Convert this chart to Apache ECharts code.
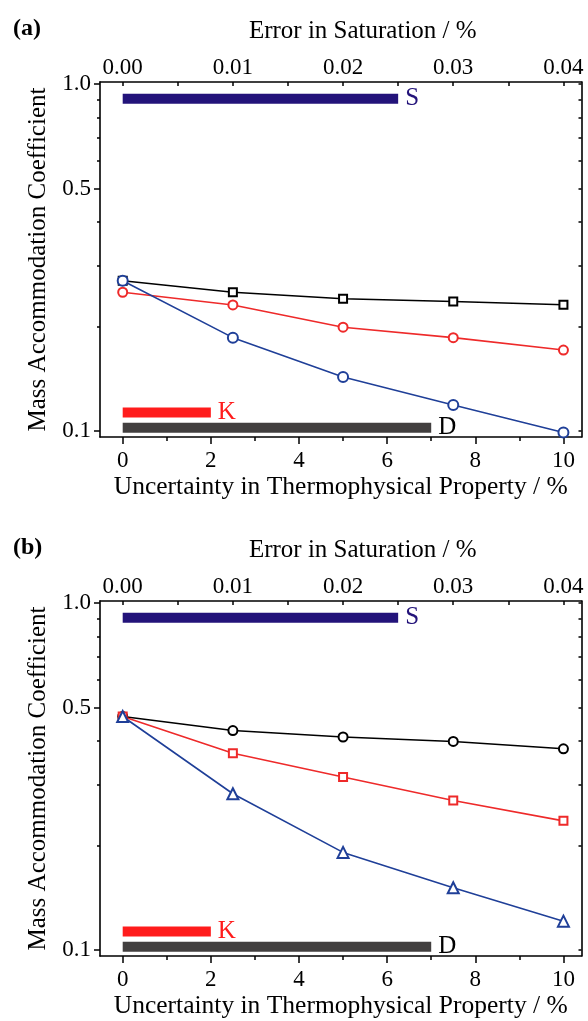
<!DOCTYPE html>
<html>
<head>
<meta charset="utf-8">
<script src="https://cdn.jsdelivr.net/npm/echarts@6/dist/echarts.min.js"></script>
<style>
html,body{margin:0;padding:0;background:#fff;}
#chart{width:588px;height:1021px;}
</style>
</head>
<body>
<div id="chart"></div>
<script>
// ---------- data ----------
const xVals = [0, 2.5, 5, 7.5, 10];

// panel (a)
const aBlack = [0.271, 0.251, 0.2405, 0.236, 0.231];
const aRed   = [0.251, 0.2307, 0.199, 0.1857, 0.171];
const aBlue  = [0.271, 0.1857, 0.143, 0.1188, 0.0989];

// panel (b)
const bBlack = [0.471, 0.429, 0.411, 0.399, 0.380];
const bRed   = [0.471, 0.369, 0.315, 0.2695, 0.2355];
const bBlue  = [0.471, 0.282, 0.191, 0.151, 0.121];

// range bars: [start, end, level]
const barS = [0, 0.025, 0.908];   // on the saturation-error axis
const barK = [0, 2, 0.113];
const barD = [0, 7, 0.102];

// tick labels
const bottomTicks = [0, 2, 4, 6, 8, 10];
const bottomMinor = [1, 3, 5, 7, 9];
const topTicks = [0, 0.01, 0.02, 0.03, 0.04];
const topAllTicks = [0, 0.005, 0.01, 0.015, 0.02, 0.025, 0.03, 0.035, 0.04];
const yTicks = [0.1, 0.5, 1.0];
const yMinor = [0.2, 0.3, 0.4, 0.6, 0.7, 0.8, 0.9];
const yAll = [0.1, 0.2, 0.3, 0.4, 0.5, 0.6, 0.7, 0.8, 0.9, 1.0];

// axis limits
const xMin = -0.515, xMax = 10.41;
const satPerUnit = 0.004;
const yMin = 0.096, yMax = 1.014;

// ---------- style ----------
const FONT = '"Liberation Serif", "Times New Roman", serif';
const BLACK = '#000000', RED = '#ee2a2a', BLUE = '#1f3f98';
const S_COL = '#23137a', K_COL = '#ff1c1c', D_COL = '#423f3f';

const lineAx = {show: true, onZero: false, lineStyle: {color: '#000', width: 1.6}};
const noSplit = {show: false};

function xAxesFor(gi) {
  return [
    { type: 'value', gridIndex: gi, position: 'bottom', min: xMin, max: xMax,
      axisLine: lineAx, splitLine: noSplit,
      axisTick: {show: true, customValues: bottomTicks, length: 7, lineStyle: {color: '#000', width: 1.5}},
      axisLabel: {customValues: bottomTicks, margin: 12, fontSize: 23, fontFamily: FONT, color: '#000'},
      name: 'Uncertainty in Thermophysical Property / %', nameLocation: 'middle', nameGap: 37,
      nameTextStyle: {fontSize: 25.5, fontFamily: FONT, color: '#000'} },
    { type: 'value', gridIndex: gi, position: 'bottom', min: xMin, max: xMax,
      axisLine: {show: false, onZero: false}, splitLine: noSplit,
      axisTick: {show: true, customValues: bottomMinor, length: 4, lineStyle: {color: '#000', width: 1.5}},
      axisLabel: {show: false} },
    { type: 'value', gridIndex: gi, position: 'top', min: xMin * satPerUnit, max: xMax * satPerUnit,
      axisLine: lineAx, splitLine: noSplit,
      axisTick: {show: true, inside: true, customValues: topAllTicks, length: 4, lineStyle: {color: '#000', width: 1.5}},
      axisLabel: {customValues: topTicks, margin: 3, fontSize: 23, fontFamily: FONT, color: '#000',
                  formatter: v => Number(v).toFixed(2)},
      name: 'Error in Saturation / %', nameLocation: 'middle', nameGap: 38,
      nameTextStyle: {fontSize: 25, fontFamily: FONT, color: '#000', padding: [0, 0, 0, 44]} }
  ];
}

function yAxesFor(gi) {
  return [
    { type: 'log', logBase: 10, gridIndex: gi, position: 'left', min: yMin, max: yMax,
      axisLine: lineAx, splitLine: noSplit, minorTick: {show: false},
      axisTick: {show: true, customValues: yTicks, length: 6, lineStyle: {color: '#000', width: 1.5}},
      axisLabel: {customValues: yTicks, margin: 9, fontSize: 23, fontFamily: FONT, color: '#000',
                  formatter: v => Number(v).toFixed(1)},
      name: 'Mass Accommodation Coefficient', nameLocation: 'middle', nameGap: 47, nameRotate: 90,
      nameTextStyle: {fontSize: 25, fontFamily: FONT, color: '#000'} },
    { type: 'log', logBase: 10, gridIndex: gi, position: 'left', min: yMin, max: yMax,
      axisLine: {show: false, onZero: false}, splitLine: noSplit,
      axisTick: {show: true, customValues: yMinor, length: 3, lineStyle: {color: '#000', width: 1.5}},
      axisLabel: {show: false} },
    { type: 'log', logBase: 10, gridIndex: gi, position: 'right', min: yMin, max: yMax,
      axisLine: lineAx, splitLine: noSplit,
      axisTick: {show: true, inside: true, customValues: yAll, length: 3, lineStyle: {color: '#000', width: 1.5}},
      axisLabel: {show: false} }
  ];
}

function pts(ys) { return xVals.map((x, i) => [x, ys[i]]); }

function dataSeries(gi, ys, color, symbol, size) {
  return { type: 'line', xAxisIndex: gi * 3, yAxisIndex: gi * 3, data: pts(ys),
    symbol: symbol, symbolSize: size, showSymbol: true,
    color: color,
    lineStyle: {color: color, width: 1.6},
    itemStyle: {color: color, borderColor: color, borderWidth: 1.7},
    z: 5 };
}

function barSeries(gi, bar, color, text, labelColor, onTop) {
  return { type: 'line', xAxisIndex: gi * 3 + (onTop ? 2 : 0), yAxisIndex: gi * 3,
    data: [[bar[0], bar[2]], [bar[1], bar[2]]], symbol: 'none',
    lineStyle: {color: color, width: 10, cap: 'butt'},
    endLabel: {show: true, formatter: text, distance: 7, fontSize: 25, fontFamily: FONT, color: labelColor},
    z: 3 };
}

const series = [];
[[aBlack, aRed, aBlue], [bBlack, bRed, bBlue]].forEach((set, gi) => {
  series.push(barSeries(gi, barS, S_COL, 'S', S_COL, true));
  series.push(barSeries(gi, barK, K_COL, 'K', K_COL, false));
  series.push(barSeries(gi, barD, D_COL, 'D', '#000', false));
  if (gi === 0) {
    series.push(dataSeries(gi, set[0], BLACK, 'emptyRect', 8));
    series.push(dataSeries(gi, set[1], RED, 'emptyCircle', 9));
    series.push(dataSeries(gi, set[2], BLUE, 'emptyCircle', 10));
  } else {
    series.push(dataSeries(gi, set[0], BLACK, 'emptyCircle', 9));
    series.push(dataSeries(gi, set[1], RED, 'emptyRect', 8));
    series.push(dataSeries(gi, set[2], BLUE, 'emptyTriangle', 11));
  }
});

const option = {
  backgroundColor: '#fff',
  animation: false,
  title: [
    {text: '(a)', left: 8, top: 12, textStyle: {fontSize: 24, fontWeight: 'bold', fontFamily: FONT, color: '#000'}},
    {text: '(b)', left: 8, top: 531, textStyle: {fontSize: 24, fontWeight: 'bold', fontFamily: FONT, color: '#000'}}
  ],
  grid: [
    {left: 100, top: 82, width: 481.5, height: 355},
    {left: 100, top: 601, width: 481.5, height: 355}
  ],
  xAxis: xAxesFor(0).concat(xAxesFor(1)),
  yAxis: yAxesFor(0).concat(yAxesFor(1)),
  series: series
};

const chart = echarts.init(document.getElementById('chart'), null, {renderer: 'canvas'});
chart.setOption(option);
</script>
</body>
</html>
